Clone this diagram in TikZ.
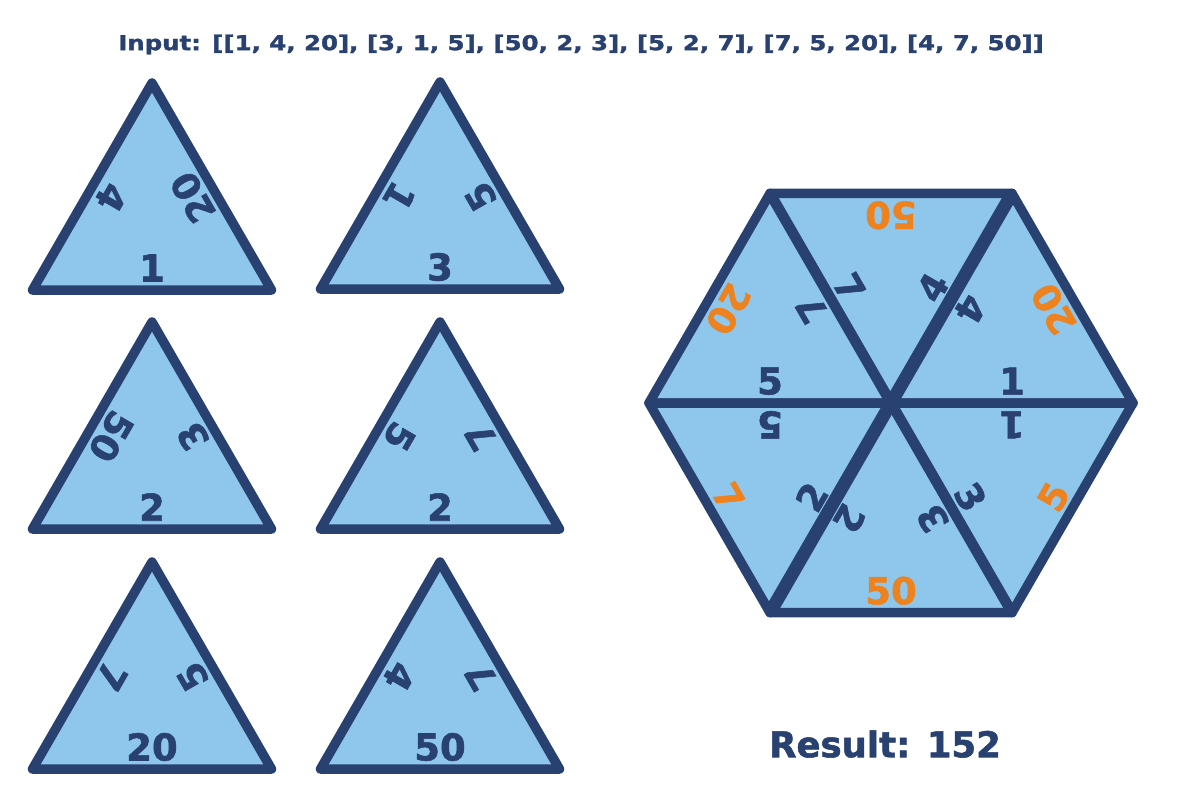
\documentclass[tikz,border=0pt]{standalone}
\usepackage{fontspec}
\setmainfont{DejaVu Sans}
\newfontfamily\heavyfont{DejaVu Sans Bold}[FakeBold=1.5]
\usetikzlibrary{calc}
\definecolor{tfill}{RGB}{142,198,236}
\definecolor{tline}{RGB}{41,65,113}
\definecolor{torange}{RGB}{238,130,30}
\newcommand\smalltri[6]{%
  \coordinate (#1a) at (#2,-#3);
  \coordinate (#1l) at (#2-119.5,-#3-207);
  \coordinate (#1r) at (#2+119.5,-#3-207);
  \coordinate (#1c) at (#2,-#3-138);
  \draw[tri] (#1a)--(#1l)--(#1r)--cycle;
  \node[lbl,rotate=0] (#1b) at ($(#1c)+(-90:47)$) {#4};
  \node[lbl,rotate=240] (#1L) at ($(#1c)+(150:47)$) {#5};
  \node[lbl,rotate=120] (#1R) at ($(#1c)+(30:47)$) {#6};
}
% hexagon label: name, centroid angle, edge angle, text, extra style
\newcommand\hexlbl[5]{%
  \node[lbl,#5,rotate=#3+90] (#1) at ($(C)+(#2:139.7)+(#3:48)$) {#4};
}
\begin{document}
\begin{tikzpicture}[x=1pt,y=1pt,
  tri/.style={fill=tfill,draw=tline,line width=9.5pt,line join=round},
  lbl/.style={font=\heavyfont\fontsize{37}{37}\selectfont,text=tline,inner sep=0pt},
  outer/.style={text=torange}]
\useasboundingbox (0,0) rectangle (1200,-800);

% title
\node[font=\heavyfont\fontsize{20.5}{20.5}\selectfont,text=tline,inner sep=0pt] (title) at (581,-44.5)
  {\scalebox{1.19}[1]{Input: [[1, 4, 20], [3, 1, 5], [50, 2, 3], [5, 2, 7], [7, 5, 20], [4, 7, 50]]}};

% small triangles
\smalltri{ta}{152}{83}{1}{4}{20}
\smalltri{tb}{440}{82}{3}{1}{5}
\smalltri{tc}{152}{322}{2}{50}{3}
\smalltri{td}{440}{322}{2}{5}{7}
\smalltri{te}{152}{562}{20}{7}{5}
\smalltri{tf}{440}{562}{50}{4}{7}

% hexagon
\coordinate (C) at (891,-403);
\coordinate (R) at ($(C)+(0:242)$);
\coordinate (TR) at ($(C)+(60:242)$);
\coordinate (TL) at ($(C)+(120:242)$);
\coordinate (L) at ($(C)+(180:242)$);
\coordinate (BL) at ($(C)+(240:242)$);
\coordinate (BR) at ($(C)+(300:242)$);
\draw[tri] (C)--(TR)--(R)--cycle;
\draw[tri] (C)--(TL)--(TR)--cycle;
\draw[tri] (C)--(L)--(TL)--cycle;
\draw[tri] (C)--(BL)--(L)--cycle;
\draw[tri] (C)--(BR)--(BL)--cycle;
\draw[tri] (C)--(R)--(BR)--cycle;
\draw[draw=tline,line width=13pt,shorten <=8pt,shorten >=8pt] (TR)--(BL);
\draw[draw=tline,line width=10.5pt,shorten <=8pt,shorten >=8pt] (TL)--(BR);

% upper-right
\hexlbl{ur1}{30}{-90}{1}{}
\hexlbl{ur2}{30}{150}{4}{}
\hexlbl{ur3}{30}{30}{20}{outer}
% top
\hexlbl{tp1}{90}{90}{50}{outer}
\hexlbl{tp2}{90}{210}{7}{}
\hexlbl{tp3}{90}{-30}{4}{}
% upper-left
\hexlbl{ul1}{150}{-90}{5}{}
\hexlbl{ul2}{150}{150}{20}{outer}
\hexlbl{ul3}{150}{30}{7}{}
% lower-left
\hexlbl{ll1}{210}{90}{5}{}
\hexlbl{ll2}{210}{210}{7}{outer}
\hexlbl{ll3}{210}{-30}{2}{}
% bottom
\hexlbl{bt1}{270}{-90}{50}{outer}
\hexlbl{bt2}{270}{150}{2}{}
\hexlbl{bt3}{270}{30}{3}{}
% lower-right
\hexlbl{lr1}{330}{90}{1}{}
\hexlbl{lr2}{330}{210}{3}{}
\hexlbl{lr3}{330}{-30}{5}{outer}

% result
\node[font=\heavyfont\fontsize{35.5}{35.5}\selectfont,text=tline,inner sep=0pt] (result) at (885,-744) {Result: 152};
\end{tikzpicture}
\end{document}
